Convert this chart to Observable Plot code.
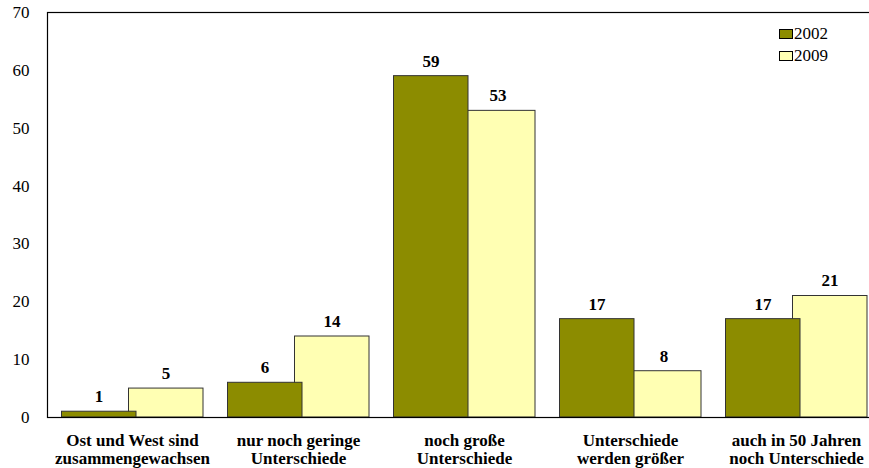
<!DOCTYPE html>
<html><head><meta charset="utf-8">
<script src="https://cdn.jsdelivr.net/npm/d3@7"></script>
<script src="https://cdn.jsdelivr.net/npm/@observablehq/plot@0.6"></script>
<style>
body{margin:0;background:#fff;}
#wrap{position:relative;width:869px;height:468px;overflow:hidden;}
#wrap svg, #wrap svg text{font-family:'Liberation Serif', serif !important;}
.legend{position:absolute;left:779px;top:23px;font-family:'Liberation Serif', serif;font-size:17px;line-height:22px;color:#000;}
.legend .row{display:flex;align-items:center;height:22px;}
.legend .sw{width:12px;height:8px;border:1px solid #000;margin-right:1px;}
</style>
</head><body>
<div id="wrap"></div>
<script>
const categories = ["Ost und West sind\nzusammengewachsen","nur noch geringe\nUnterschiede","noch große\nUnterschiede","Unterschiede\nwerden größer","auch in 50 Jahren\nnoch Unterschiede"];
const years = ["2002","2009"];
const values2002 = [1, 6, 59, 17, 17];
const values2009 = [5, 14, 53, 8, 21];
const yTicks = [0, 10, 20, 30, 40, 50, 60, 70];
const colors = {"2002": "#8C8C00", "2009": "#FFFFB3"};
const FONT = "Liberation Serif";

const d2002 = categories.map((c, i) => ({cat: c, value: values2002[i]}));
const d2009 = categories.map((c, i) => ({cat: c, value: values2009[i]}));

const chart = Plot.plot({
  width: 869,
  height: 468,
  marginTop: 12,
  marginBottom: 51,
  marginLeft: 47,
  marginRight: -11,
  style: {fontFamily: FONT, background: "#fff", color: "#000"},
  x: {domain: categories, padding: 0, axis: null},
  y: {domain: [0, 70], ticks: yTicks, axis: null},
  marks: [
    Plot.axisY({ticks: yTicks, tickSize: 0, tickPadding: 18, fontSize: 17, fontFamily: FONT, label: null}),
    Plot.axisX({tickSize: 0, tickPadding: 16, fontSize: 17, fontWeight: "bold", fontFamily: FONT, lineHeight: 1.06, label: null}),
    Plot.barY(d2009, {x: "cat", y: "value", fill: colors["2009"], stroke: "#333", strokeWidth: 1, insetLeft: 79.5, insetRight: 12}),
    Plot.barY(d2002, {x: "cat", y: "value", fill: colors["2002"], stroke: "#333", strokeWidth: 1, insetLeft: 12.5, insetRight: 79}),
    Plot.text(d2002, {x: "cat", y: "value", text: d => String(d.value), dx: -33.5, dy: -15, lineAnchor: "middle", fontWeight: "bold", fontSize: 17, fontFamily: FONT}),
    Plot.text(d2009, {x: "cat", y: "value", text: d => String(d.value), dx: 33.5, dy: -15, lineAnchor: "middle", fontWeight: "bold", fontSize: 17, fontFamily: FONT}),
    Plot.frame({stroke: "#000", strokeWidth: 1.2})
  ]
});
const wrap = document.getElementById("wrap");
wrap.appendChild(chart);
const leg = document.createElement("div");
leg.className = "legend";
years.forEach(y => {
  const row = document.createElement("div");
  row.className = "row";
  const sw = document.createElement("div");
  sw.className = "sw";
  sw.style.background = colors[y];
  const t = document.createElement("span");
  t.textContent = y;
  row.appendChild(sw); row.appendChild(t);
  leg.appendChild(row);
});
wrap.appendChild(leg);
</script>
</body></html>
